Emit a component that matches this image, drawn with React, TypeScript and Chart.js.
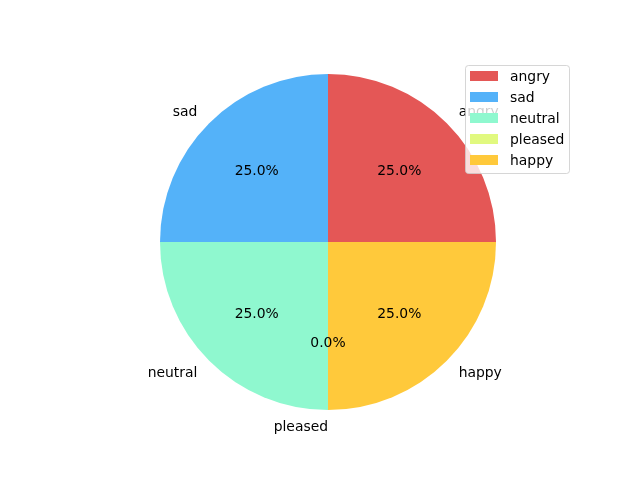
import React, { useEffect, useRef } from "react";
import { Chart, registerables } from "chart.js";

Chart.register(...registerables);

const categories = ["angry", "sad", "neutral", "pleased", "happy"];
const values = [25, 25, 25, 0, 25];
const colors = ["#e45756", "#54b2f9", "#8ff8cf", "#e1f97f", "#ffc93b"];

const FONT = '13.9px "DejaVu Sans"';

export default function App() {
  const ref = useRef<HTMLCanvasElement | null>(null);
  useEffect(() => {
    document.body.style.margin = "0";
    const canvas = ref.current!;
    // Chart.js draws clockwise; matplotlib counter-clockwise, so reverse order.
    const revLabels = [...categories].reverse();
    const revValues = [...values].reverse();
    const revColors = [...colors].reverse();
    const total = values.reduce((a, b) => a + b, 0);

    const textPlugin = {
      id: "mplText",
      afterDraw(chart: any) {
        const ctx = chart.ctx as CanvasRenderingContext2D;
        const meta = chart.getDatasetMeta(0);
        ctx.save();
        ctx.font = FONT;
        ctx.fillStyle = "#000";
        ctx.textBaseline = "middle";
        meta.data.forEach((arc: any, i: number) => {
          const mid = (arc.startAngle + arc.endAngle) / 2;
          const r = arc.outerRadius;
          const cx = arc.x, cy = arc.y;
          const c = Math.cos(mid), s = Math.sin(mid);
          // outer label
          const lx = cx + 1.1 * r * c;
          const ly = cy + 1.1 * r * s + 1;
          ctx.textAlign = c > 1e-9 ? "left" : "right";
          ctx.fillText(revLabels[i], lx, ly);
          // percent
          const px = cx + 0.6 * r * c;
          const py = cy + 0.6 * r * s + 1;
          ctx.textAlign = "center";
          const pct = ((revValues[i] / total) * 100).toFixed(1) + "%";
          ctx.fillText(pct, px, py);
        });
        // legend
        const lx0 = 465.5, ly0 = 65.5, lw = 104, lh = 108, rad = 3;
        ctx.beginPath();
        ctx.moveTo(lx0 + rad, ly0);
        ctx.lineTo(lx0 + lw - rad, ly0);
        ctx.quadraticCurveTo(lx0 + lw, ly0, lx0 + lw, ly0 + rad);
        ctx.lineTo(lx0 + lw, ly0 + lh - rad);
        ctx.quadraticCurveTo(lx0 + lw, ly0 + lh, lx0 + lw - rad, ly0 + lh);
        ctx.lineTo(lx0 + rad, ly0 + lh);
        ctx.quadraticCurveTo(lx0, ly0 + lh, lx0, ly0 + lh - rad);
        ctx.lineTo(lx0, ly0 + rad);
        ctx.quadraticCurveTo(lx0, ly0, lx0 + rad, ly0);
        ctx.closePath();
        ctx.fillStyle = "rgba(255,255,255,0.8)";
        ctx.fill();
        ctx.strokeStyle = "rgba(204,204,204,0.8)";
        ctx.lineWidth = 1;
        ctx.stroke();
        ctx.textAlign = "left";
        categories.forEach((name, i) => {
          const yc = 76 + i * 21;
          ctx.fillStyle = colors[i];
          ctx.fillRect(470, yc - 5, 28, 10);
          ctx.fillStyle = "#000";
          ctx.fillText(name, 510, yc + 1);
        });
        ctx.restore();
      },
    };

    const chart = new Chart(canvas, {
      type: "pie",
      data: {
        labels: revLabels,
        datasets: [
          {
            data: revValues,
            backgroundColor: revColors,
            borderWidth: 0,
          },
        ],
      },
      options: {
        responsive: false,
        animation: false,
        rotation: 90,
        layout: { padding: { left: 160, right: 144, top: 74, bottom: 70 } },
        plugins: {
          legend: { display: false },
          tooltip: { enabled: false },
        },
      },
      plugins: [textPlugin],
    });
    return () => chart.destroy();
  }, []);
  return <canvas ref={ref} width={640} height={480} style={{ display: "block" }} />;
}
